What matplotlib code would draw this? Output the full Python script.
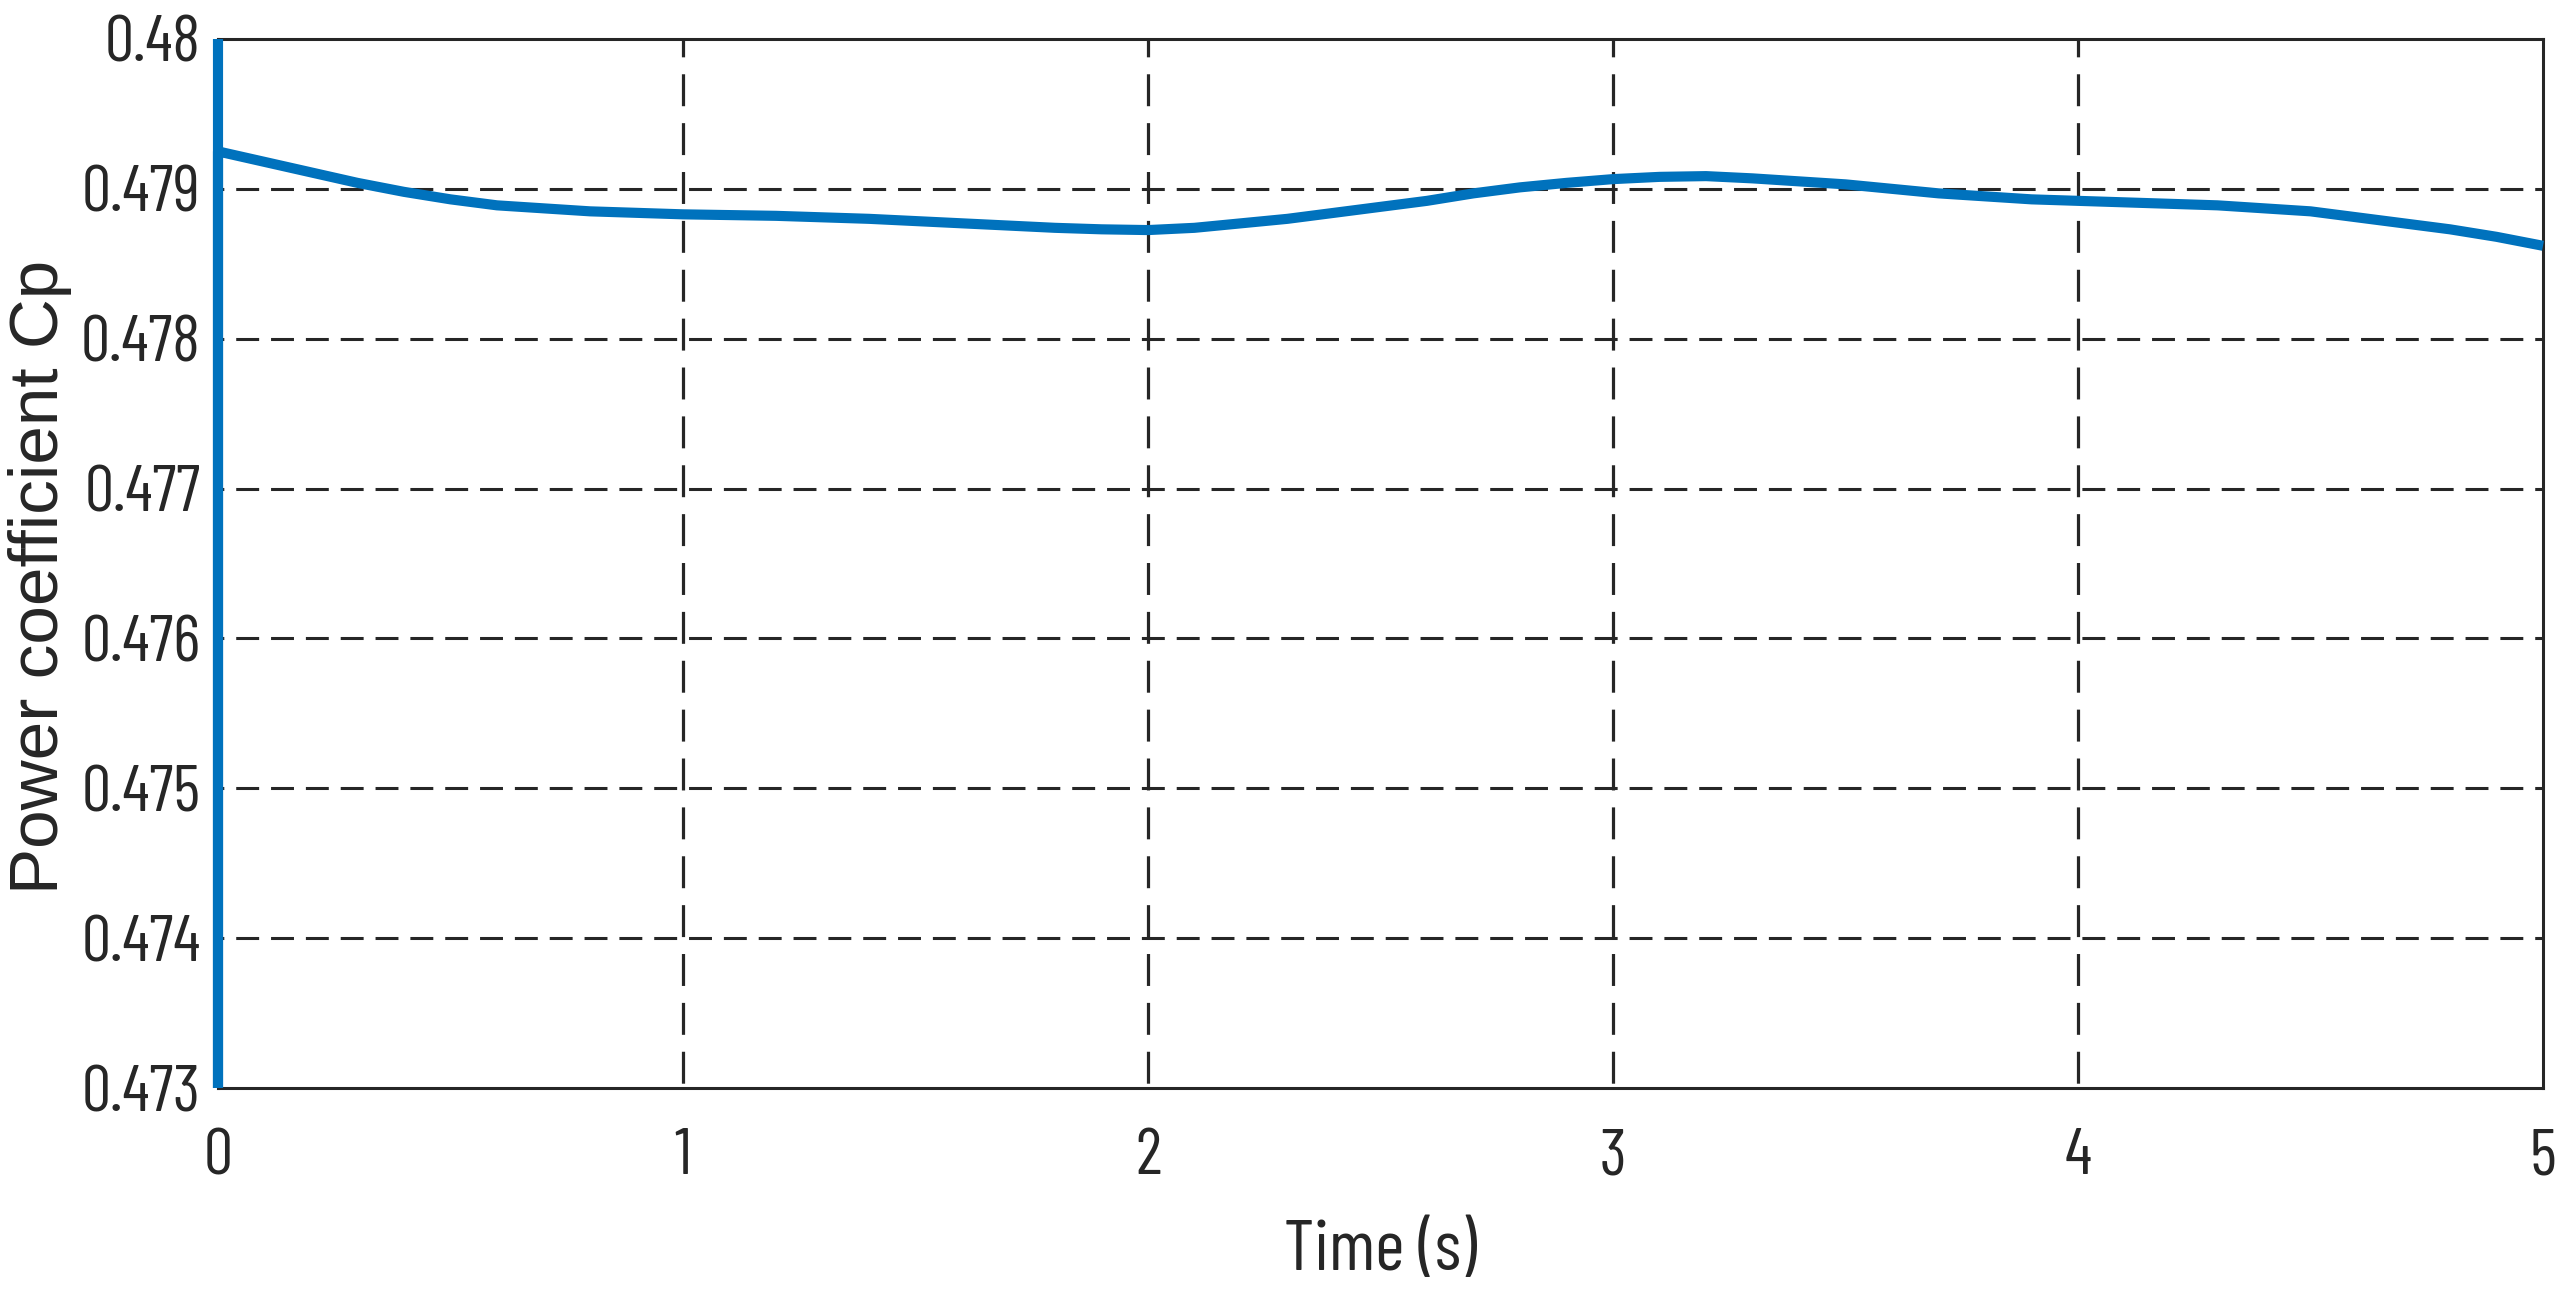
import numpy as np
import matplotlib.pyplot as plt
from matplotlib.font_manager import FontProperties
from matplotlib.textpath import TextPath

# Power coefficient (time in s); the first three
# points are the vertical start-up trace along t = 0
time_s = [0.0, 0.0, 0.0, 0.1, 0.2, 0.3, 0.4, 0.5, 0.6, 0.7, 0.8, 0.9, 1.0,
          1.2, 1.4, 1.6, 1.8, 1.9, 2.0, 2.1, 2.2, 2.3, 2.4, 2.5, 2.6, 2.7,
          2.8, 2.9, 3.0, 3.1, 3.2, 3.3, 3.4, 3.5, 3.6, 3.7, 3.8, 3.9, 4.0,
          4.1, 4.2, 4.3, 4.4, 4.5, 4.6, 4.7, 4.8, 4.9, 5.0]
cp = [0.480, 0.473, 0.47925, 0.47918, 0.47911, 0.47904, 0.47898, 0.47893,
      0.47889, 0.47887, 0.47885, 0.47884, 0.47883, 0.47882, 0.47880, 0.47877,
      0.47874, 0.47873, 0.478725, 0.47874, 0.47877, 0.47880, 0.47884, 0.47888,
      0.47892, 0.47897, 0.47901, 0.47904, 0.479065, 0.47908, 0.479085, 0.47907,
      0.47905, 0.47903, 0.47900, 0.47897, 0.47895, 0.47893, 0.47892, 0.47891,
      0.47890, 0.47889, 0.47887, 0.47885, 0.47881, 0.47877, 0.47873, 0.47868,
      0.47862]

x_ticks = [0, 1, 2, 3, 4, 5]
y_ticks = [0.473, 0.474, 0.475, 0.476, 0.477, 0.478, 0.479, 0.48]
y_tick_labels = ['0.473', '0.474', '0.475', '0.476', '0.477', '0.478', '0.479', '0.48']

DARK = '#262626'
BLUE = '#0072BD'
NARROW = ['Barlow Condensed', 'DejaVu Sans']
WIDE = ['Liberation Sans', 'DejaVu Sans']


def size_for(text, family, target_px, use_height=True):
    """font size (pt) giving target ink height/width in pixels at dpi 100"""
    ext = TextPath((0, 0), text, prop=FontProperties(family=family, size=100)).get_extents()
    val = ext.height if use_height else ext.width
    return target_px * 72 / val


tick_size = size_for('0', NARROW[0], 47)
xlab_size = size_for('T', NARROW[0], 50)
ylab_size = size_for('Power coefficient Cp', WIDE[0], 625, use_height=False)

W, H = 2574, 1304
fig = plt.figure(figsize=(W / 100, H / 100), dpi=100)
left, right, top, bottom = 218, 2543, 39, 1088
ax = fig.add_axes([left / W, (H - bottom) / H, (right - left) / W, (bottom - top) / H])

# grid: horizontal lines have shorter dashes than vertical ones
for y in y_ticks[1:-1]:
    ax.axhline(y, color=DARK, lw=2.2, linestyle=(5.6, (7.5, 3.9)), zorder=1)
for x in x_ticks[1:-1]:
    ax.axvline(x, color=DARK, lw=2.3, linestyle=(13.8, (10.0, 5.3)), zorder=1)

ax.plot(time_s, cp, color=BLUE, lw=7.3, solid_capstyle='butt',
        solid_joinstyle='bevel', clip_on=False, zorder=3)

ax.set_xlim(0, 5)
ax.set_ylim(0.473, 0.48)
ax.set_xticks(x_ticks)
ax.set_yticks(y_ticks)
ax.set_yticklabels(y_tick_labels)
ax.set_xticklabels([str(v) for v in x_ticks])

for lab in ax.get_xticklabels() + ax.get_yticklabels():
    lab.set_family(NARROW)
    lab.set_fontsize(tick_size)
    lab.set_color(DARK)
ax.tick_params(axis='both', length=0)
ax.tick_params(axis='x', pad=29)
ax.tick_params(axis='y', pad=12.5)

for sp in ax.spines.values():
    sp.set_color(DARK)
    sp.set_linewidth(2.2)
    sp.set_zorder(2)

ax.set_xlabel('Time (s)', fontsize=xlab_size, family=NARROW, color=DARK)
ax.xaxis.set_label_coords(0.5, -0.1258)
ax.set_ylabel('Power coefficient Cp', fontsize=ylab_size, family=WIDE, color=DARK)
ax.yaxis.set_label_coords(-0.0628, 0.487)

fig.savefig('out.png', dpi=100)
